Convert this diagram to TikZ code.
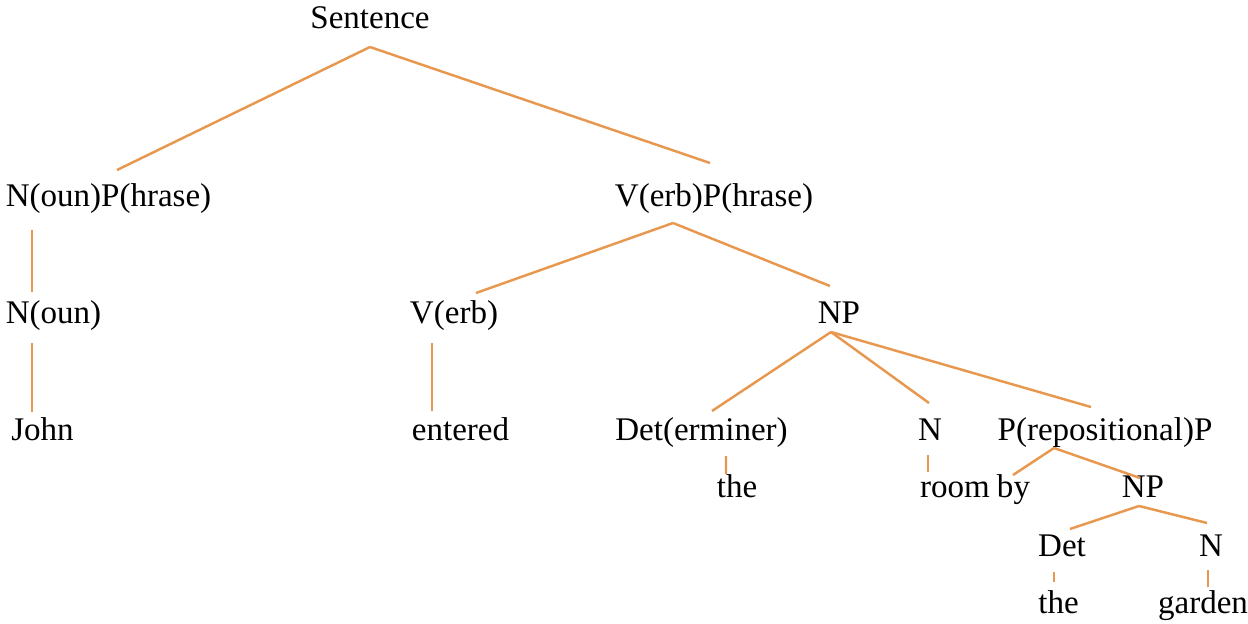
\documentclass[tikz,border=0pt]{standalone}
\usepackage{fontspec}
\setmainfont{LiberationSerif}[Extension=.ttf, UprightFont=*-Regular, BoldFont=*-Bold]
\usetikzlibrary{calc}
\definecolor{branchorange}{RGB}{232,152,78}
\begin{document}
\begin{tikzpicture}
    [%%%%%%%%%%%%%%%%%%%%%%%%%%%%%%
        x=0.02cm, y=-0.02cm,
        word/.style={inner sep=0pt, anchor=base, text=black, font=\fontsize{18.8}{22}\selectfont},
        branch/.style={draw=branchorange, line width=1.4pt},
    ]%%%%%%%%%%%%%%%%%%%%%%%%%%%%%%
    \useasboundingbox (0,0) rectangle (1248,623);

    \node[word] (sent) at (370,28) {Sentence};

    \node[word] (np) at (108.5,206) {N(oun)P(hrase)};
    \node[word] (vp) at (714,206) {V(erb)P(hrase)};

    \node[word] (noun) at (53.5,323) {N(oun)};
    \node[word] (verb) at (454,323) {V(erb)};
    \node[word] (obj) at (839,323) {NP};

    \node[word] (john) at (42.5,440) {John};
    \node[word] (entered) at (460.5,440) {entered};
    \node[word] (det) at (701.5,440) {Det(erminer)};
    \node[word] (n) at (930,440) {N};
    \node[word] (pp) at (1105,440) {P(repositional)P};

    \node[word] (the) at (737,497) {the};
    \node[word] (room) at (955,497) {room};
    \node[word] (by) at (1013.5,497) {by};
    \node[word] (ppnp) at (1143,497) {NP};

    \node[word] (ppdet) at (1062,556) {Det};
    \node[word] (ppn) at (1211,556) {N};

    \node[word] (ppthe) at (1058.5,613) {the};
    \node[word] (garden) at (1203,613) {garden};

    % branches
    \draw[branch] ($(sent.base)+(0,19)$) -- ($(np.base)+(8.5,-36)$);
    \draw[branch] ($(sent.base)+(0,19)$) -- ($(vp.base)+(-4,-43)$);
    \draw[branch] ($(np.base)+(-76.5,24)$) -- ($(noun.base)+(-21.5,-31)$);
    \draw[branch] ($(vp.base)+(-41,17)$) -- ($(verb.base)+(22,-30)$);
    \draw[branch] ($(vp.base)+(-41,17)$) -- ($(obj.base)+(-9,-37)$);

    \draw[branch] ($(noun.base)+(-21.5,20)$) -- ($(john.base)+(-10.5,-28)$);
    \draw[branch] ($(verb.base)+(-22,20)$) -- ($(entered.base)+(-28.5,-29)$);
    \draw[branch] ($(obj.base)+(-8,9)$) -- ($(det.base)+(10.5,-29)$);
    \draw[branch] ($(obj.base)+(-8,9)$) -- ($(n.base)+(-1,-37)$);
    \draw[branch] ($(obj.base)+(-8,9)$) -- ($(pp.base)+(-14,-33)$);

    \draw[branch] ($(det.base)+(24.5,16)$) -- ($(the.base)+(-11,-23)$);
    \draw[branch] ($(n.base)+(-2,15)$) -- ($(room.base)+(-27,-25)$);
    \draw[branch] ($(pp.base)+(-51,8)$) -- ($(by.base)+(-0.5,-22)$);
    \draw[branch] ($(pp.base)+(-51,8)$) -- ($(ppnp.base)+(-3,-19)$);

    \draw[branch] ($(ppnp.base)+(-4,9)$) -- ($(ppdet.base)+(8,-27)$);
    \draw[branch] ($(ppnp.base)+(-4,9)$) -- ($(ppn.base)+(-4,-33)$);
    \draw[branch] ($(ppdet.base)+(-8,16)$) -- ($(ppthe.base)+(-4.5,-31)$);
    \draw[branch] ($(ppn.base)+(-3,14)$) -- ($(garden.base)+(5,-26)$);

\end{tikzpicture}
\end{document}
